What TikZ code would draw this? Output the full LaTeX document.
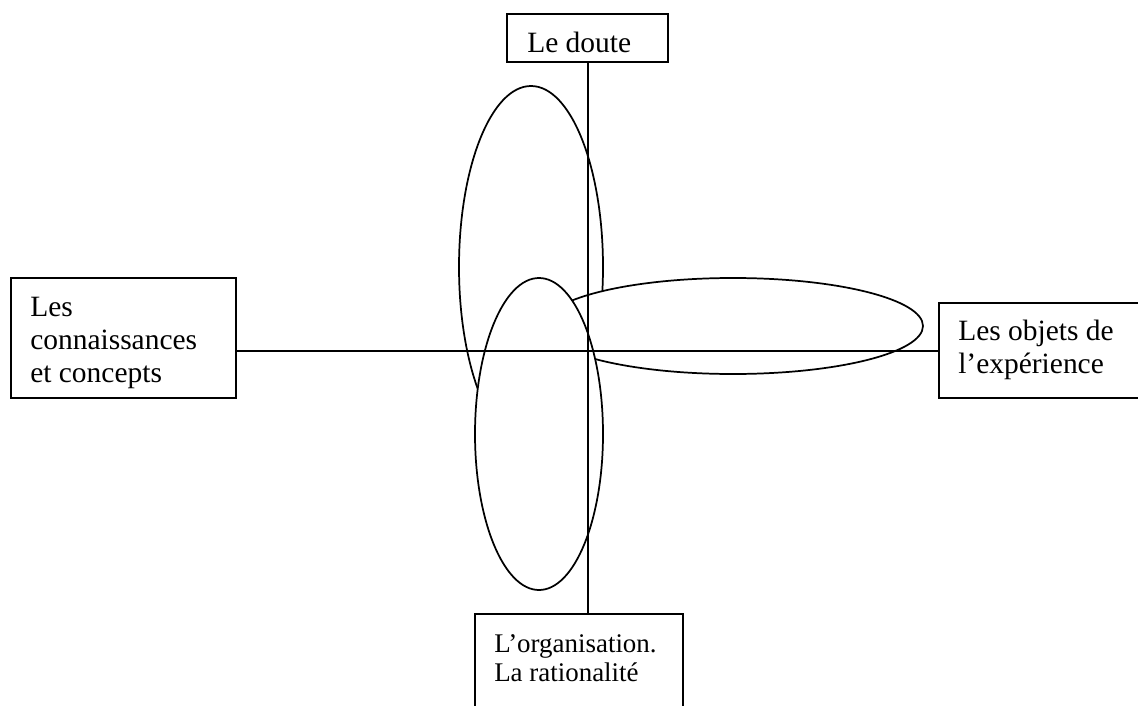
\documentclass[tikz,border=0pt]{standalone}
\usepackage{fontspec}
\setmainfont{Liberation Serif}
\usetikzlibrary{positioning}

\tikzset{
  cadre/.style={draw, line width=1.3pt, fill=white, inner sep=0pt},
  bulle/.style={draw, line width=1.3pt, fill=white},
  trait/.style={draw, line width=1.5pt},
  texte/.style={anchor=base west, inner sep=0pt, align=left, font=\fontsize{22.1}{24.4}\selectfont},
  petit/.style={texte, font=\fontsize{20.2}{21.75}\selectfont}
}

\begin{document}
\begin{tikzpicture}[x=0.75pt,y=0.75pt,yscale=-1,xscale=1]
        \useasboundingbox (0,0) rectangle (1138,706);

        %Shape: Ellipse (haut)
        \draw [bulle] (531,267) ellipse [x radius=72, y radius=181];
        %Shape: Ellipse (horizontale)
        \draw [bulle] (733,326) ellipse [x radius=190, y radius=48];
        %Shape: Ellipse (bas)
        \draw [bulle] (539,434) ellipse [x radius=64, y radius=156];

        % Boxes
        \node [cadre, minimum width=120.75pt, minimum height=36pt] (doute) at (587.5,38) {};
        \node [cadre, minimum width=168.75pt, minimum height=90pt] (savoir) at (123.5,338) {};
        \node [cadre, minimum width=165.75pt, minimum height=71.25pt] (objets) at (1049.5,350.5) {};
        \node [cadre, minimum width=156pt, minimum height=87pt] (orga) at (579,672) {};

        %Straight Lines
        \draw [trait] (doute.south) -- (doute.south |- orga.north);
        %Straight Lines
        \draw [trait] (savoir.east |- objets.west) -- (objets.west);

        % Text Node (base = last line)
        \node [texte] (doute-t) at (527,53) {Le doute};
        % Text Node
        \node [texte] (savoir-t) at (30,382) {Les\\connaissances\\et concepts};
        % Text Node
        \node [texte] (objets-t) at (958,373) {Les objets de\\l’expérience};
        % Text Node
        \node [petit] (orga-t) at (494,681) {L’organisation.\\La rationalité};

\end{tikzpicture}
\end{document}
